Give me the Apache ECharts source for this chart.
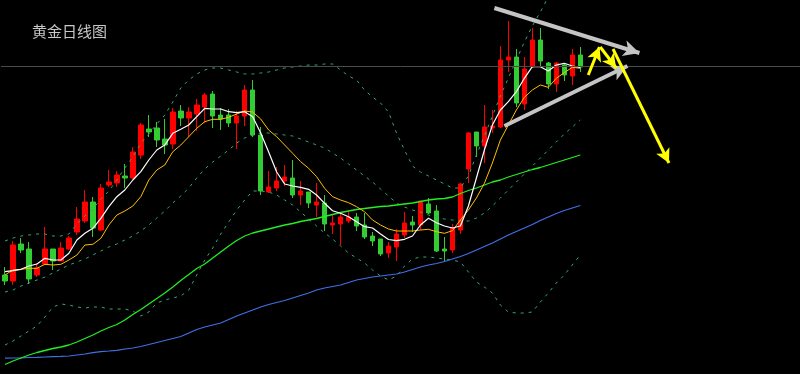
<!DOCTYPE html>
<html><head><meta charset="utf-8">
<script src="https://cdn.jsdelivr.net/npm/echarts@6/dist/echarts.min.js"></script>
<style>html,body{margin:0;padding:0;background:#000;}#c{width:800px;height:374px;}</style>
</head><body><div id="c"></div>
<script>
const chartTitle = '黄金日线图';
const slotCount = 100; // 73 trading days + empty space on the right
const categories = Array.from({length: slotCount}, (_, i) => 'D' + (i + 1));

const opens = [2425,2419,2456,2451,2425,2436,2451,2439,2451,2468,2479,2498,2470,2515,2517,2524,2522,2545,2571,2572,2561,2556,2589,2582,2586,2593,2606,2585,2585,2577,2584,2610,2565,2508,2512,2519,2522,2505,2508,2495,2497,2475,2476,2479,2483,2475,2464,2461,2447,2453,2465,2478,2475,2496,2489,2451,2450,2470,2531,2568,2554,2572,2573,2640,2643,2596,2633,2660,2637,2616,2635,2624,2645];
const closes = [2419,2455,2450,2421,2432,2451,2439,2452,2462,2481,2498,2472,2512,2518,2525,2522,2548,2575,2568,2560,2555,2588,2582,2588,2595,2605,2584,2581,2577,2584,2610,2565,2509,2513,2519,2523,2505,2509,2497,2498,2476,2477,2483,2483,2474,2463,2459,2446,2454,2466,2477,2475,2499,2487,2449,2449,2472,2516,2567,2554,2573,2574,2640,2643,2597,2631,2660,2639,2616,2637,2625,2645,2633];
const lows = [2415,2415,2447,2416,2423,2435,2430,2439,2450,2465,2477,2463,2469,2513,2513,2512,2521,2541,2563,2553,2546,2551,2574,2563,2569,2577,2572,2570,2573,2551,2574,2563,2505,2507,2509,2514,2502,2495,2492,2483,2469,2466,2455,2477,2469,2461,2454,2444,2442,2439,2462,2468,2470,2486,2448,2439,2447,2466,2517,2543,2537,2567,2572,2628,2593,2590,2632,2633,2611,2608,2619,2615,2628];
const highs = [2433,2459,2462,2458,2437,2473,2451,2458,2464,2493,2510,2503,2516,2530,2529,2536,2553,2577,2585,2578,2581,2592,2595,2593,2601,2607,2609,2592,2591,2589,2615,2620,2573,2529,2533,2535,2540,2519,2508,2517,2505,2486,2488,2489,2487,2487,2468,2461,2458,2471,2488,2484,2499,2502,2495,2463,2476,2517,2568,2568,2595,2590,2654,2679,2651,2643,2672,2672,2638,2638,2637,2651,2653];

const ma5 = [2428.3,2429.3,2430.7,2434,2436,2441.7,2440,2440,2446.7,2460,2466.7,2471.7,2481.7,2493.3,2503.3,2510,2520,2528.3,2540,2550,2555,2566.7,2570.7,2575,2583.3,2591.7,2591,2591,2588.3,2587.3,2588.3,2583.3,2567,2548,2528,2516,2514,2512.7,2510.7,2505,2496.7,2489.3,2486.7,2483.3,2478.3,2473.3,2472,2466,2460.5,2459.3,2460.7,2464,2475,2481.7,2477.3,2474,2472,2474,2494,2522,2550,2575,2590,2598.3,2608.3,2621.7,2633.3,2633.3,2629,2635,2636.7,2634,2632.7];
const ma10 = [2425,2430,2430.7,2431.7,2431.7,2435.7,2435,2435.7,2440,2445,2455,2455.7,2461.7,2475,2485,2489,2494,2503.3,2520,2530,2535,2548.3,2555,2563.3,2571.7,2578.3,2580.7,2580.7,2582.7,2586,2589,2588,2581,2570,2563.3,2555,2546.7,2538.3,2531.7,2523.3,2511.7,2503.3,2500,2497.3,2493.3,2488.3,2480,2475,2471,2469,2469,2469,2470,2470.7,2468.3,2466.7,2469.3,2480,2490,2502,2516.7,2537,2560,2575,2590,2602.7,2610,2615,2612.7,2621.7,2627.3,2632.7,2631.7];
const ma60 = [2335.5,2339,2342,2345,2347.5,2349.5,2351.5,2353,2355,2358,2361.5,2365,2369,2372.5,2375.5,2380,2385.5,2390.5,2396,2401.5,2407,2413,2419.5,2425.5,2431.5,2436,2442,2448,2454,2459.5,2464,2467,2469,2471,2473,2475,2476.5,2478.5,2480,2481.5,2483.5,2485.5,2487.5,2489,2490.5,2491.5,2492.5,2493.5,2494,2495,2496,2497,2498.5,2500,2501,2501.5,2503,2506.5,2509.5,2512,2515,2518,2520,2523,2525.5,2528,2530.5,2532.5,2535,2537.5,2540,2542.5,2545];
const ma120 = [2341.8,2342,2342.2,2342.5,2342.6,2343,2343.3,2343.6,2344,2345,2346,2347.3,2348.4,2349,2349.7,2351,2352,2353.5,2355.5,2357.5,2359.5,2361.5,2363.5,2367,2370.5,2373,2375,2377,2380.5,2384,2387,2390,2393,2395.5,2397.5,2399.5,2402,2404.5,2407,2410,2412,2413.5,2415,2417.5,2420,2421.5,2423,2424,2425,2426,2428,2430.5,2433,2435,2436.5,2438.5,2441,2443.5,2446.5,2450,2453.5,2457,2461,2465,2468.5,2472,2475.5,2479.5,2483,2486.5,2489.5,2492,2494.5];
const bollUpper = [2459,2462,2464,2465,2466,2466,2464,2464,2466,2476,2484,2491,2501,2509,2520,2532,2543,2557,2566,2576,2585,2598,2612,2620,2626,2630,2632,2632,2630,2628,2626,2626,2627,2628,2630,2632,2633,2634,2635,2635,2636,2636,2630,2624,2620,2610,2603,2597,2588,2567,2550,2534,2528,2524,2520,2516,2512,2512,2524,2545,2564,2584,2604,2622,2640,2658,2674,2688,2703,2716,2727,2736,2744];
const bollMid = [2408,2410,2414,2417,2420,2423,2427,2431,2435,2438,2441,2445,2449,2453,2456,2460,2464,2469,2475,2482,2489,2497,2504,2512,2522,2531,2538,2544,2550,2557,2562,2565,2567,2567,2566,2565,2564,2561,2558,2555,2552,2547,2542,2536,2530,2524,2518,2511,2504,2497,2493,2490,2488,2485,2483,2481,2480,2479,2479,2482,2487,2494,2502,2510,2518,2526,2534,2542,2550,2558,2566,2573,2580];
const bollLower = [2355,2359,2364,2369,2374,2383,2393,2396,2395,2393,2392,2393,2393,2391,2391,2391,2389,2384,2388,2397,2400,2402,2404,2410,2425,2440,2452,2466,2478,2490,2500,2509,2509,2508,2505,2500,2495,2488,2481,2474,2467,2461,2454,2447,2442,2437,2430,2424,2420,2424,2434,2441,2443,2443,2442,2441,2440,2438,2428,2418,2413,2407,2395,2388,2387,2387,2388,2398,2407,2417,2425,2435,2445];
const lastPrice = 2634;

// annotation arrows: [startIndex, startPrice, endIndex, endPrice]
const grayArrows = [[61.25, 2692, 79.4, 2647], [62.5, 2574, 77.9, 2634]];
const yellowArrows = [[73.0, 2625, 74.4, 2653], [74.5, 2653, 76.5, 2632], [76.1, 2651, 83.1, 2537]];

const chart = echarts.init(document.getElementById('c'));
const candleData = opens.map((o, i) => [o, closes[i], lows[i], highs[i]]);
const bandStyle = {color: '#33a872', width: 1, type: [3, 5]};
function lineSeries(name, data, lineStyle) {
  return {name, type: 'line', data, symbol: 'none', smooth: false, silent: true,
    lineStyle, clip: true, z: 3};
}
function arrowSeries(list, color, width, size) {
  return {type: 'line', xAxisIndex: 1, data: [], silent: true, z: 6,
    markLine: {silent: true, animation: false, symbol: ['none', 'arrow'], symbolSize: size,
      label: {show: false}, lineStyle: {color, width, type: 'solid'},
      data: list.map(a => [{coord: [a[0], a[1]]}, {coord: [a[2], a[3]]}])}};
}
chart.setOption({
  backgroundColor: '#000000',
  animation: false,
  title: {text: chartTitle, left: 32, top: 24, padding: 0,
    textStyle: {color: '#c8c8c8', fontSize: 15, fontWeight: 'normal', fontFamily: 'Noto Sans CJK SC'}},
  grid: {left: 1, top: 0, width: 800, height: 374},
  xAxis: [
    {type: 'category', data: categories, boundaryGap: true, show: false},
    {type: 'value', min: -0.5, max: slotCount - 0.5, show: false}
  ],
  yAxis: {type: 'value', min: 2326, max: 2700, show: false, splitLine: {show: false}},
  series: [
    {type: 'candlestick', data: candleData, barWidth: 5, silent: true, z: 2,
      itemStyle: {color: '#ff0000', color0: '#33cc33', borderColor: '#ff0000', borderColor0: '#33cc33', borderWidth: 1},
      markLine: {silent: true, symbol: 'none', label: {show: false},
        lineStyle: {color: '#4a4a4a', width: 1, type: 'solid'}, data: [{yAxis: lastPrice}]}},
    lineSeries('BOLL-UP', bollUpper, bandStyle),
    lineSeries('BOLL-MID', bollMid, bandStyle),
    lineSeries('BOLL-LOW', bollLower, bandStyle),
    lineSeries('MA120', ma120, {color: '#4070e8', width: 1.2}),
    lineSeries('MA60', ma60, {color: '#22ee22', width: 1.3}),
    lineSeries('MA10', ma10, {color: '#ffc000', width: 1}),
    lineSeries('MA5', ma5, {color: '#ffffff', width: 1.2}),
    arrowSeries(grayArrows, '#c4c4c4', 4, [12, 16]),
    arrowSeries(yellowArrows, '#ffff00', 3, [11, 14])
  ]
});
</script>
</body></html>
